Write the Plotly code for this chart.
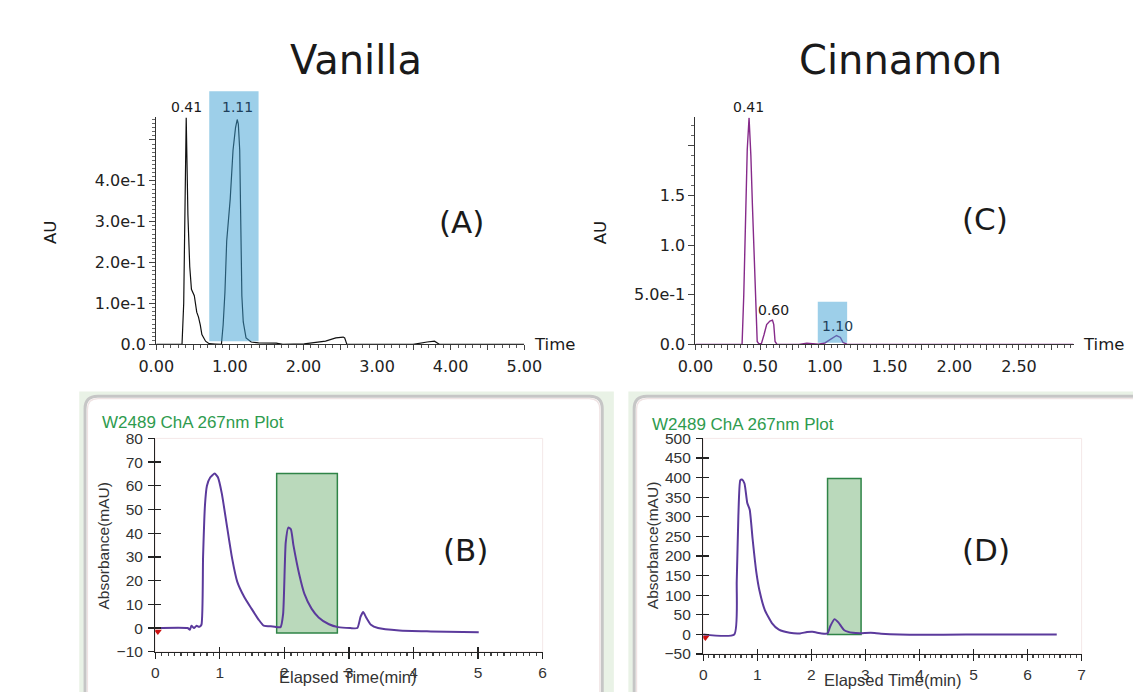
import plotly.graph_objects as go

W, H = 1141, 692

# ---------------- data ----------------
# (A) Vanilla, AU vs time (min)
vanilla_t = [0, 0.30, 0.35, 0.373, 0.39, 0.407, 0.43, 0.455, 0.478, 0.517, 0.55, 0.574, 0.598, 0.62, 0.67, 0.718,
             0.80, 0.885, 0.909, 0.933, 0.957, 1.005, 1.043, 1.077, 1.10, 1.115, 1.134, 1.148, 1.163, 1.182,
             1.22, 1.29, 1.39, 1.63, 1.72, 2.01, 2.30, 2.44, 2.54, 2.56, 2.59, 3.00, 3.49, 3.68, 3.78, 3.85, 4.20, 5.00]
vanilla_au = [0, 0, 0, 0.10, 0.35, 0.555, 0.317, 0.19, 0.135, 0.119, 0.079, 0.067, 0.048, 0.024, 0.008, 0.002,
              0.001, 0.0, 0.048, 0.127, 0.253, 0.356, 0.475, 0.53, 0.55, 0.539, 0.475, 0.238, 0.119, 0.055,
              0.016, 0.006, 0.004, 0.003, 0.0, 0.0015, 0.008, 0.016, 0.018, 0.016, 0.0, 0.0, 0.0, 0.006, 0.008, 0.0, 0.0, 0.0]
vanilla_peaks_t = [0.41, 1.11]
vanilla_peaks_lbl = ["0.41", "1.11"]
vanilla_window = [0.72, 1.39]       # highlighted time window
vanilla_window_au = [0.008, 0.619]  # highlighted AU span

# (C) Cinnamon, AU vs time (min)
cinnamon_t = [0, 0.35, 0.36, 0.373, 0.387, 0.40, 0.414, 0.428, 0.44, 0.447, 0.455, 0.465, 0.477, 0.49, 0.51, 0.53,
              0.55, 0.575, 0.595, 0.605, 0.615, 0.63, 0.80, 0.86, 0.90, 0.95, 1.00, 1.05, 1.09, 1.12, 1.14, 1.17, 1.25, 2.92]
cinnamon_au = [0, 0, 0, 0.49, 1.30, 1.96, 2.28, 1.90, 1.40, 1.14, 0.80, 0.35, 0.03, 0.005, 0.01, 0.10,
               0.20, 0.235, 0.245, 0.20, 0.03, 0.0, 0.0, 0.012, 0.010, 0.003, 0.015, 0.06, 0.09, 0.07, 0.02, 0.003, 0.0, 0.0]
cinnamon_peaks_t = [0.41, 0.60, 1.10]
cinnamon_peaks_au = [2.28, 0.245, 0.09]
cinnamon_peaks_lbl = ["0.41", "0.60", "1.10"]
cinnamon_window = [0.945, 1.172]
cinnamon_window_au = [0.017, 0.43]

# (B) Vanilla, W2489 absorbance (mAU) vs elapsed time (min)
b_t = [0, 0.50, 0.535, 0.56, 0.60, 0.64, 0.68, 0.715, 0.74, 0.77, 0.80, 0.85, 0.92, 0.97, 1.03, 1.11, 1.19, 1.27, 1.38,
       1.49, 1.60, 1.68, 1.82, 1.94, 1.98, 2.02, 2.06, 2.10, 2.14, 2.23, 2.31, 2.42, 2.53, 2.69, 2.83, 3.02, 3.13,
       3.18, 3.22, 3.26, 3.34, 3.45, 3.78, 4.27, 5.01]
b_mau = [0, 0, -0.7, 1.0, 0, 1.0, 0.5, 1.4, 30, 52, 60, 63.5, 65.2, 63.6, 56.8, 43, 29.4, 19.5, 13,
         8.2, 3.6, 1.0, 0.7, 0.4, 6, 36, 42.4, 41.7, 34.9, 22.6, 14.4, 8.2, 4.5, 1.6, 0.4, 0, 0,
         4.8, 6.8, 4.8, 1.4, 0, -1, -1.4, -1.8]
b_window = [1.88, 2.82]
b_window_mau = [-2.1, 65.2]
b_marker = [0.04, -1.5]

# (D) Cinnamon, W2489 absorbance (mAU) vs elapsed time (min)
d_t = [0, 0.574, 0.62, 0.65, 0.685, 0.717, 0.763, 0.815, 0.86, 0.913, 0.98, 1.04, 1.14, 1.27, 1.40, 1.60, 1.79,
       1.92, 2.02, 2.19, 2.30, 2.35, 2.43, 2.50, 2.61, 2.77, 2.90, 3.10, 3.29, 4.01, 4.86, 6.54]
d_mau = [0, 0, 136, 302, 393, 395, 385, 335, 318, 244, 161, 112, 62, 29, 12, 4, 2.5,
         6, 6.6, 2.5, 2.5, 20.7, 39, 30.6, 10.7, 4, 3, 4, 2, -1, 0, 0]
d_window = [2.30, 2.92]
d_window_mau = [0, 398]
d_marker = [0.04, -8]

titles = ["Vanilla", "Cinnamon"]
panel_labels = ["(A)", "(B)", "(C)", "(D)"]
plot_title = "W2489 ChA 267nm Plot"

# ---------------- helpers ----------------
def fx(p):
    return p / W


def fy(p):
    return 1 - p / H


TOPFONT = "DejaVu Sans"
WFONT = "Liberation Sans, Arial, sans-serif"
INK = "#222222"

fig = go.Figure()

# traces
fig.add_trace(go.Scatter(x=vanilla_t, y=vanilla_au, xaxis="x", yaxis="y", mode="lines",
                         line=dict(color="#111111", width=1.2), hoverinfo="skip", showlegend=False))
fig.add_trace(go.Scatter(x=cinnamon_t, y=cinnamon_au, xaxis="x3", yaxis="y3", mode="lines",
                         line=dict(color="#862a8a", width=1.4), hoverinfo="skip", showlegend=False))
fig.add_trace(go.Scatter(x=b_t, y=b_mau, xaxis="x2", yaxis="y2", mode="lines",
                         line=dict(color="#5b3a9c", width=2, shape="spline", smoothing=0.5),
                         hoverinfo="skip", showlegend=False))
fig.add_trace(go.Scatter(x=d_t, y=d_mau, xaxis="x4", yaxis="y4", mode="lines",
                         line=dict(color="#5b3a9c", width=2, shape="spline", smoothing=0.5),
                         hoverinfo="skip", showlegend=False))
fig.add_trace(go.Scatter(x=[b_marker[0]], y=[b_marker[1]], xaxis="x2", yaxis="y2", mode="markers",
                         marker=dict(symbol="triangle-down", size=7, color="#cc1111"),
                         hoverinfo="skip", showlegend=False))
fig.add_trace(go.Scatter(x=[d_marker[0]], y=[d_marker[1]], xaxis="x4", yaxis="y4", mode="markers",
                         marker=dict(symbol="triangle-down", size=7, color="#cc1111"),
                         hoverinfo="skip", showlegend=False))
# empty traces for overlay tick axes (cross ticks)
fig.add_trace(go.Scatter(x=[], y=[], xaxis="x5", yaxis="y5", showlegend=False, hoverinfo="skip"))
fig.add_trace(go.Scatter(x=[], y=[], xaxis="x6", yaxis="y6", showlegend=False, hoverinfo="skip"))

# ---------------- axes ----------------
top_tick_font = dict(family=TOPFONT, size=16, color=INK)
w_tick_font = dict(family=WFONT, size=15.5, color="#333333")

a_xvals = [i * 0.5 for i in range(11)]
a_xtext = [("%.2f" % v) if v == int(v) else "" for v in a_xvals]
a_yvals = [0, 0.1, 0.2, 0.3, 0.4, 0.5]
a_ytext = ["0.0", "1.0e-1", "2.0e-1", "3.0e-1", "4.0e-1", ""]

c_xvals = [i * 0.25 for i in range(12)]
c_xtext = [("%.2f" % v) if (v * 2) == int(v * 2) else "" for v in c_xvals]
c_yvals = [0, 0.5, 1.0, 1.5, 2.0]
c_ytext = ["0.0", "5.0e-1", "1.0", "1.5", ""]

common_top = dict(showgrid=False, zeroline=False, showline=True, linecolor="#333333", linewidth=1,
                  ticks="outside", tickcolor="#444444", tickfont=top_tick_font, fixedrange=True)

layout_axes = dict(
    xaxis=dict(domain=[fx(134.5), fx(514.5)], range=[0, 5], anchor="y", tickmode="array",
               tickvals=a_xvals, ticktext=a_xtext, ticklen=5, ticklabelstandoff=2,
               minor=dict(dtick=0.1, tick0=0, ticks="outside", ticklen=2.5, tickcolor="#555555"), **common_top),
    yaxis=dict(domain=[fy(336.7), fy(103.3)], range=[0, 0.555], anchor="x", tickmode="array",
               tickvals=a_yvals, ticktext=a_ytext, ticklen=6,
               minor=dict(dtick=0.01, tick0=0, ticks="outside", ticklen=3, tickcolor="#666666"), **common_top),
    xaxis3=dict(domain=[fx(691.3), fx(1081.7)], range=[0, 2.922], anchor="y3", tickmode="array",
                tickvals=c_xvals, ticktext=c_xtext, ticklen=5, ticklabelstandoff=2,
                minor=dict(dtick=0.05, tick0=0, ticks="outside", ticklen=2.5, tickcolor="#555555"), **common_top),
    yaxis3=dict(domain=[fy(336.7), fy(103.3)], range=[0, 2.283], anchor="x3", tickmode="array",
                tickvals=c_yvals, ticktext=c_ytext, ticklen=6,
                minor=dict(dtick=0.1, tick0=0, ticks="outside", ticklen=3, tickcolor="#666666"), **common_top),
)

common_w = dict(showgrid=False, zeroline=False, showline=True, linecolor="#222222", linewidth=1.3,
                ticks="outside", tickcolor="#222222", tickwidth=1.3, tickfont=w_tick_font, fixedrange=True)
common_w_cross = dict(showgrid=False, zeroline=False, showline=False, ticks="inside",
                      tickcolor="#222222", tickwidth=1.3, showticklabels=False, fixedrange=True)

b_xd = [fx(133.5), fx(533.5)]
b_yd = [fy(652.7), fy(433.3)]
d_xd = [fx(699.3), fx(1090.0)]
d_yd = [fy(655.0), fy(433.3)]

layout_axes.update(
    xaxis2=dict(domain=b_xd, range=[0, 6], anchor="y2", dtick=1, tick0=0, ticklen=6,
                minor=dict(dtick=0.1, tick0=0, ticks="outside", ticklen=2.5, tickcolor="#444444"), **common_w),
    yaxis2=dict(domain=b_yd, range=[-10, 80], anchor="x2", dtick=10, tick0=0, ticklen=6,
                ticklabelstandoff=2, **common_w),
    xaxis5=dict(domain=b_xd, range=[0, 6], anchor="y5", dtick=1, tick0=0, ticklen=5, **common_w_cross),
    yaxis5=dict(domain=b_yd, range=[-10, 80], anchor="x5", dtick=10, tick0=0, ticklen=6, **common_w_cross),
    xaxis4=dict(domain=d_xd, range=[0, 7], anchor="y4", dtick=1, tick0=0, ticklen=6,
                minor=dict(dtick=0.1, tick0=0, ticks="outside", ticklen=2.5, tickcolor="#444444"), **common_w),
    yaxis4=dict(domain=d_yd, range=[-50, 500], anchor="x4", dtick=50, tick0=0, ticklen=6,
                ticklabelstandoff=2, **common_w),
    xaxis6=dict(domain=d_xd, range=[0, 7], anchor="y6", dtick=1, tick0=0, ticklen=5, **common_w_cross),
    yaxis6=dict(domain=d_yd, range=[-50, 500], anchor="x6", dtick=50, tick0=0, ticklen=6, **common_w_cross),
)

# ---------------- shapes ----------------
def rounded_top(x0, y0, x1, y1, r):
    return ("M %f,%f L %f,%f Q %f,%f %f,%f L %f,%f Q %f,%f %f,%f L %f,%f" % (
        fx(x0), fy(y1), fx(x0), fy(y0 + r), fx(x0), fy(y0), fx(x0 + r), fy(y0),
        fx(x1 - r), fy(y0), fx(x1), fy(y0), fx(x1), fy(y0 + r), fx(x1), fy(y1)))


shapes = [
    dict(type="rect", xref="paper", yref="paper", x0=fx(55), x1=fx(607), y0=fy(700), y1=fy(385),
         fillcolor="#e9f2e6", line=dict(width=0), layer="below"),
    dict(type="rect", xref="paper", yref="paper", x0=fx(622), x1=fx(1150), y0=fy(700), y1=fy(385),
         fillcolor="#e9f2e6", line=dict(width=0), layer="below"),
    dict(type="path", xref="paper", yref="paper", path=rounded_top(61, 390, 595, 705, 13) + " Z",
         fillcolor="#ffffff", line=dict(color="#c6c6c6", width=3), layer="below"),
    dict(type="path", xref="paper", yref="paper", path=rounded_top(63.5, 392.5, 592.5, 705, 11),
         fillcolor="rgba(0,0,0,0)", line=dict(color="#efe3e3", width=1.2), layer="below"),
    dict(type="path", xref="paper", yref="paper", path=rounded_top(628, 390, 1160, 705, 13) + " Z",
         fillcolor="#ffffff", line=dict(color="#c6c6c6", width=3), layer="below"),
    dict(type="path", xref="paper", yref="paper", path=rounded_top(630.5, 392.5, 1160, 705, 11),
         fillcolor="rgba(0,0,0,0)", line=dict(color="#efe3e3", width=1.2), layer="below"),
    # faint plot-area frames of the W2489 plots
    dict(type="rect", xref="x2 domain", yref="y2 domain", x0=0, x1=1, y0=0, y1=1,
         line=dict(color="#f4e8e8", width=1), layer="below"),
    dict(type="rect", xref="x4 domain", yref="y4 domain", x0=0, x1=1, y0=0, y1=1,
         line=dict(color="#f4e8e8", width=1), layer="below"),
    # green collection windows
    dict(type="rect", xref="x2", yref="y2", x0=b_window[0], x1=b_window[1],
         y0=b_window_mau[0], y1=b_window_mau[1], fillcolor="#bad9bb",
         line=dict(color="#2f8447", width=1.5), layer="below"),
    dict(type="rect", xref="x4", yref="y4", x0=d_window[0], x1=d_window[1],
         y0=d_window_mau[0], y1=d_window_mau[1], fillcolor="#bad9bb",
         line=dict(color="#2f8447", width=1.5), layer="below"),
    # blue highlight windows (semi-transparent, above trace)
    dict(type="rect", xref="x domain", yref="y domain",
         x0=vanilla_window[0] / 5, x1=vanilla_window[1] / 5,
         y0=vanilla_window_au[0] / 0.555, y1=vanilla_window_au[1] / 0.555,
         fillcolor="rgb(60,160,211)", opacity=0.5, line=dict(width=0), layer="above"),
    dict(type="rect", xref="x3", yref="y3", x0=cinnamon_window[0], x1=cinnamon_window[1],
         y0=cinnamon_window_au[0], y1=cinnamon_window_au[1],
         fillcolor="rgb(60,160,211)", opacity=0.5, line=dict(width=0), layer="above"),
]

# ---------------- annotations ----------------
ann = []
ann.append(dict(text=titles[0], xref="paper", yref="paper", x=fx(341), y=fy(44), xanchor="center",
                yanchor="middle", showarrow=False, font=dict(family=TOPFONT, size=40, color="#1a1a1a")))
ann.append(dict(text=titles[1], xref="paper", yref="paper", x=fx(903), y=fy(44), xanchor="center",
                yanchor="middle", showarrow=False, font=dict(family=TOPFONT, size=40, color="#1a1a1a")))

lbl_pos = [(450, 211), (453.6, 548), (990.6, 208), (991.5, 548)]
for t, (px_, py_) in zip(panel_labels, lbl_pos):
    ann.append(dict(text=t, xref="paper", yref="paper", x=fx(px_), y=fy(py_), xanchor="center",
                    yanchor="middle", showarrow=False, font=dict(family=TOPFONT, size=31, color="#1a1a1a")))

peak_font = dict(family=TOPFONT, size=14, color="#1a1a1a")
peak_font_in = dict(family=TOPFONT, size=14, color="#1d3f5a")
for t, l in zip(vanilla_peaks_t, vanilla_peaks_lbl):
    inside = vanilla_window[0] <= t <= vanilla_window[1]
    ann.append(dict(text=l, xref="x", yref="y domain", x=t, y=1.0, xanchor="center", yanchor="bottom",
                    showarrow=False, font=peak_font_in if inside else peak_font))
for t, v, l in zip(cinnamon_peaks_t, cinnamon_peaks_au, cinnamon_peaks_lbl):
    inside = cinnamon_window[0] <= t <= cinnamon_window[1]
    if v >= 2.28:
        ann.append(dict(text=l, xref="x3", yref="y3 domain", x=t, y=1.0, xanchor="center", yanchor="bottom",
                        showarrow=False, font=peak_font))
    else:
        ann.append(dict(text=l, xref="x3", yref="y3", x=t, y=v, xanchor="center", yanchor="bottom",
                        showarrow=False, font=peak_font_in if inside else peak_font))

axis_font = dict(family=TOPFONT, size=16.5, color="#1a1a1a")
ann.append(dict(text="Time", xref="paper", yref="paper", x=fx(522), y=fy(337), xanchor="left",
                yanchor="middle", showarrow=False, font=axis_font))
ann.append(dict(text="Time", xref="paper", yref="paper", x=fx(1089), y=fy(337), xanchor="left",
                yanchor="middle", showarrow=False, font=axis_font))
ann.append(dict(text="AU", xref="paper", yref="paper", x=fx(26), y=fy(222), xanchor="center",
                yanchor="middle", textangle=-90, showarrow=False, font=axis_font))
ann.append(dict(text="AU", xref="paper", yref="paper", x=fx(594), y=fy(222), xanchor="center",
                yanchor="middle", textangle=-90, showarrow=False, font=axis_font))

title_font = dict(family=WFONT, size=17, color="#2e9b4e")
ann.append(dict(text=plot_title, xref="paper", yref="paper", x=fx(76), y=fy(417), xanchor="left",
                yanchor="middle", showarrow=False, font=title_font))
ann.append(dict(text=plot_title, xref="paper", yref="paper", x=fx(644), y=fy(419), xanchor="left",
                yanchor="middle", showarrow=False, font=title_font))

wlab_font = dict(family=WFONT, size=16.5, color="#333333")
ann.append(dict(text="Elapsed Time(min)", xref="paper", yref="paper", x=fx(333), y=fy(678.5),
                xanchor="center", yanchor="middle", showarrow=False, font=wlab_font))
ann.append(dict(text="Elapsed Time(min)", xref="paper", yref="paper", x=fx(895), y=fy(681.5),
                xanchor="center", yanchor="middle", showarrow=False, font=wlab_font))
ann.append(dict(text="Absorbance(mAU)", xref="paper", yref="paper", x=fx(80), y=fy(543),
                xanchor="center", yanchor="middle", textangle=-90, showarrow=False,
                font=dict(family=WFONT, size=15.5, color="#333333")))
ann.append(dict(text="Absorbance(mAU)", xref="paper", yref="paper", x=fx(646.5), y=fy(543),
                xanchor="center", yanchor="middle", textangle=-90, showarrow=False,
                font=dict(family=WFONT, size=15.5, color="#333333")))

fig.update_layout(
    width=W, height=H, margin=dict(l=0, r=0, t=0, b=0), autosize=False,
    paper_bgcolor="#ffffff", plot_bgcolor="rgba(0,0,0,0)",
    shapes=shapes, annotations=ann, showlegend=False, hovermode=False,
    **layout_axes,
)

fig.write_html("out.html", config=dict(displayModeBar=False, staticPlot=True))
